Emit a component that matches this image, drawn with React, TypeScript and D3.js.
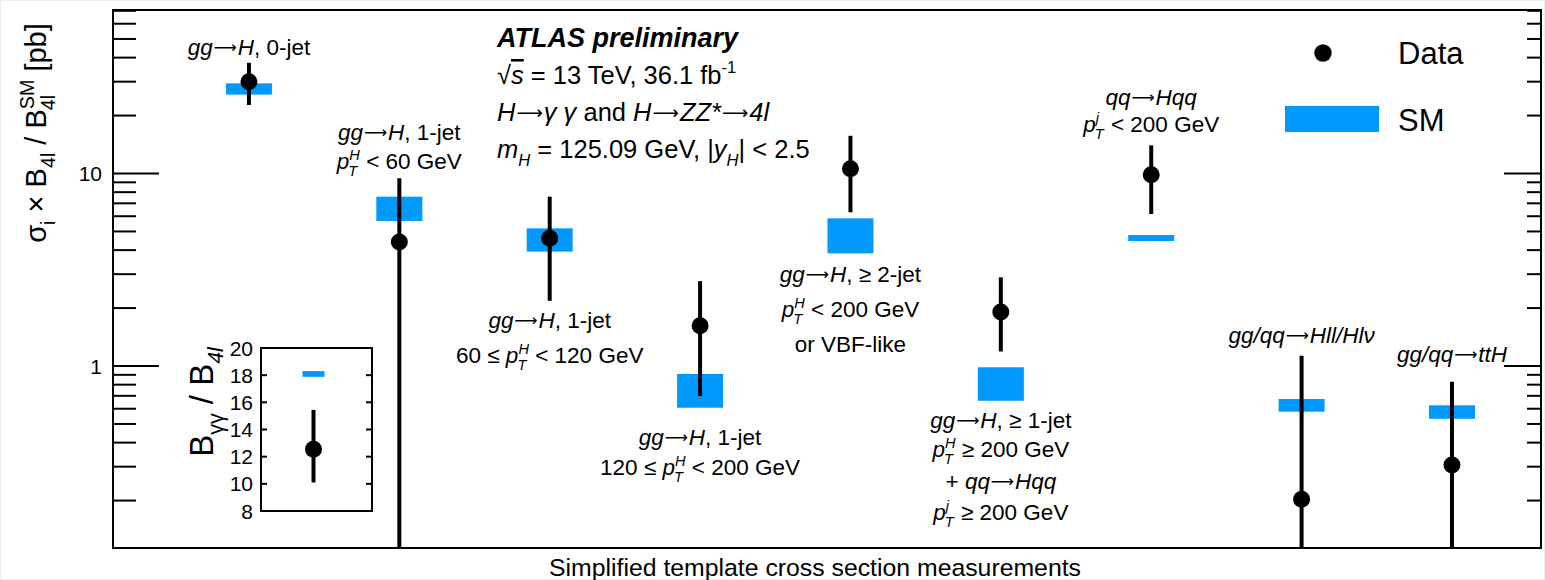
import React from "react";
import * as d3 from "d3";

// ---------------- DATA ----------------
const categories: string[][] = [
  ["*gg→H*, 0-jet"],
  ["*gg→H*, 1-jet", "*p^{H}_{T}* < 60 GeV"],
  ["*gg→H*, 1-jet", "60 ≤ *p^{H}_{T}* < 120 GeV"],
  ["*gg→H*, 1-jet", "120 ≤ *p^{H}_{T}* < 200 GeV"],
  ["*gg→H*, ≥ 2-jet", "*p^{H}_{T}* < 200 GeV", "or VBF-like"],
  ["*gg→H*, ≥ 1-jet", "*p^{H}_{T}* ≥ 200 GeV", "+ *qq→Hqq*", "*p^{j}_{T}* ≥ 200 GeV"],
  ["*qq→Hqq*", "*p^{j}_{T}* < 200 GeV"],
  ["*gg/qq→Hll/Hlν*"],
  ["*gg/qq→ttH*"],
];
const dataValue = [30.0, 4.41, 4.61, 1.62, 10.6, 1.91, 9.85, 0.203, 0.306];
const dataHigh = [37.6, 9.44, 7.58, 2.76, 15.7, 2.89, 14.0, 1.13, 0.829];
const dataLow = [22.7, 0, 2.18, 0.698, 6.29, 1.19, 6.16, 0, 0];
const smLow = [25.7, 5.67, 3.93, 0.607, 3.85, 0.66, 4.46, 0.579, 0.532];
const smHigh = [29.4, 7.58, 5.19, 0.909, 5.85, 0.985, 4.79, 0.674, 0.625];

const yMajorTicks = [1, 10];
const insetTicks = [8, 10, 12, 14, 16, 18, 20];
const insetData = { value: 12.54, low: 10.1, high: 15.44 };
const insetSM = { low: 17.88, high: 18.3 };

// "§" stands for a literal asterisk, "~" marks an overlined letter
const atlasTitle = "ATLAS preliminary";
const atlasLines = [
  "√*~s* = 13 TeV, 36.1 fb^{-1}",
  "*H→γ γ* and *H→ZZ§→4l*",
  "*m_{H}* = 125.09 GeV, |*y_{H}*| < 2.5",
];
const yTitle = "σ_{i} × B_{4l} / B^{SM}_{4l} [pb]";
const xTitle = "Simplified template cross section measurements";
const insetTitle = "B_{γγ} / B_{*4l*}";

// ---------------- LAYOUT ----------------
const W = 1545;
const H = 580;
const FONT = "'Liberation Sans', Arimo, Helvetica, Arial, sans-serif";
const ARROW_FONT = "'DejaVu Sans', sans-serif";
const SM_COLOR = "#0099ff";
const plot = { left: 113, right: 1541, top: 10, bottom: 548 };
const labelBaselines = [[55], [140, 169], [328, 363], [445, 475], [282, 317, 352], [428, 457, 489, 520], [105, 132], [343], [362]];
const labelFont = 22.5;

// --------------- rich text ---------------
type Seg =
  | { kind: "n"; text: string; italic: boolean; over?: boolean }
  | { kind: "arrow"; italic: boolean }
  | { kind: "sup" | "sub"; text: string; italic: boolean }
  | { kind: "stack"; sup: string; sub: string; italic: boolean };

function parseRich(s: string): Seg[] {
  const segs: Seg[] = [];
  let i = 0;
  let italic = false;
  let buf = "";
  const flush = () => {
    if (buf) {
      const parts = buf.split("→");
      parts.forEach((p, k) => {
        if (k > 0) segs.push({ kind: "arrow", italic });
        if (p) {
          if (p[0] === "~") segs.push({ kind: "n", text: p.slice(1), italic, over: true });
          else segs.push({ kind: "n", text: p.replace(/§/g, "*"), italic });
        }
      });
    }
    buf = "";
  };
  const readGroup = () => {
    let g: string;
    if (s[i] === "{") {
      const j = s.indexOf("}", i);
      g = s.slice(i + 1, j);
      i = j + 1;
    } else {
      g = s[i];
      i++;
    }
    let it = italic;
    if (g.length > 2 && g[0] === "*" && g[g.length - 1] === "*") {
      g = g.slice(1, -1);
      it = true;
    }
    return { g, it };
  };
  while (i < s.length) {
    const c = s[i];
    if (c === "*") {
      flush();
      italic = !italic;
      i++;
    } else if (c === "^" || c === "_") {
      flush();
      i++;
      const g1 = readGroup();
      const other = c === "^" ? "_" : "^";
      if (s[i] === other) {
        i++;
        const g2 = readGroup();
        segs.push({ kind: "stack", sup: c === "^" ? g1.g : g2.g, sub: c === "^" ? g2.g : g1.g, italic: g1.it });
      } else {
        segs.push({ kind: c === "^" ? "sup" : "sub", text: g1.g, italic: g1.it });
      }
    } else {
      buf += c;
      i++;
    }
  }
  flush();
  return segs;
}

let _ctx: CanvasRenderingContext2D | null = null;
function measure(text: string, size: number, italic: boolean, bold: boolean) {
  if (!_ctx) _ctx = document.createElement("canvas").getContext("2d");
  if (!_ctx) return text.length * size * 0.55;
  _ctx.font = `${italic ? "italic " : ""}${bold ? "bold " : ""}${size}px ${FONT}`;
  return _ctx.measureText(text).width;
}

function Rich(props: {
  x: number;
  y: number;
  text: string;
  size: number;
  anchor?: string;
  bold?: boolean;
  rotate?: number;
  supScale?: number;
}) {
  const { x, y, text, size, anchor = "start", bold = false, rotate = 0, supScale = 0.65 } = props;
  const segs = parseRich(text);
  const ss = size * supScale;
  const supOff = -0.42 * size;
  const subOff = 0.3 * size;
  let cur = 0;
  let pending = 0;
  const out: any[] = [];
  segs.forEach((sg, k) => {
    const fs = sg.italic ? "italic" : "normal";
    if (sg.kind === "n") {
      out.push(
        <tspan
          key={k}
          dy={0 - cur}
          dx={pending}
          fontStyle={fs}
          fontSize={size}
          style={sg.over ? { textDecoration: "overline" } : undefined}
        >
          {sg.text}
        </tspan>
      );
      cur = 0;
      pending = 0;
    } else if (sg.kind === "arrow") {
      const off = -0.07 * size;
      out.push(
        <tspan key={k} dy={off - cur} dx={pending + 0.04 * size} fontSize={size * 0.72} fontFamily={ARROW_FONT} fontStyle="normal">
          ⟶
        </tspan>
      );
      cur = off;
      pending = 0.04 * size;
    } else if (sg.kind === "sup" || sg.kind === "sub") {
      const off = sg.kind === "sup" ? supOff : subOff;
      out.push(
        <tspan key={k} dy={off - cur} dx={pending} fontStyle={fs} fontSize={ss}>
          {sg.text}
        </tspan>
      );
      cur = off;
      pending = 0;
    } else {
      const wSup = measure(sg.sup, ss, sg.italic, bold);
      const wSub = measure(sg.sub, ss, sg.italic, bold);
      out.push(
        <tspan key={k + "a"} dy={supOff - cur} dx={pending} fontStyle={fs} fontSize={ss}>
          {sg.sup}
        </tspan>
      );
      out.push(
        <tspan key={k + "b"} dy={subOff - supOff} dx={-wSup - 1} fontStyle={fs} fontSize={ss}>
          {sg.sub}
        </tspan>
      );
      cur = subOff;
      pending = Math.max(0, wSup - wSub) + 1;
    }
  });
  return (
    <text
      x={rotate ? 0 : x}
      y={rotate ? 0 : y}
      transform={rotate ? `translate(${x},${y}) rotate(${rotate})` : undefined}
      fontSize={size}
      fontFamily={FONT}
      fontWeight={bold ? "bold" : "normal"}
      textAnchor={anchor}
      fill="#000"
    >
      {out}
    </text>
  );
}

export default function App() {
  const x = d3.scaleLinear().domain([-0.904, 8.592]).range([plot.left, plot.right]);
  const y = d3.scaleLog().domain([0.1134, 70.7]).range([plot.bottom, plot.top]);
  const yv = (v: number) => (v <= y.domain()[0] ? plot.bottom : y(v));
  const allTicks = y.ticks().filter((t) => t > y.domain()[0] && t < y.domain()[1]);
  const isMajor = (t: number) => yMajorTicks.some((m) => Math.abs(m - t) < 1e-9);
  const fmt = d3.format("d");

  const boxW = 46;

  // inset
  const inset = { left: 261, right: 372, top: 348, bottom: 511 };
  const iy = d3.scaleLinear().domain([8, 20]).range([inset.bottom, inset.top]);
  const ix = (inset.left + inset.right) / 2 - 3;

  return (
    <div style={{ position: "fixed", left: 0, top: 0, width: W, height: H, background: "#fff" }}>
      <svg width={W} height={H} style={{ display: "block" }}>
        <rect x={0.5} y={0.5} width={W - 1} height={H - 1} fill="#fff" stroke="#eeeeee" />
        {/* SM boxes */}
        {smLow.map((lo, i) => (
          <rect
            key={"sm" + i}
            x={x(i) - boxW / 2}
            y={y(smHigh[i])}
            width={boxW}
            height={y(lo) - y(smHigh[i])}
            fill={SM_COLOR}
          />
        ))}
        {/* error bars */}
        {dataValue.map((v, i) => (
          <line
            key={"eb" + i}
            x1={x(i)}
            x2={x(i)}
            y1={yv(dataLow[i])}
            y2={yv(dataHigh[i])}
            stroke="#000"
            strokeWidth={4}
          />
        ))}
        {dataValue.map((v, i) => (
          <circle key={"pt" + i} cx={x(i)} cy={y(v)} r={8.5} fill="#000" />
        ))}

        {/* frame */}
        <rect
          x={plot.left}
          y={plot.top}
          width={plot.right - plot.left}
          height={plot.bottom - plot.top}
          fill="none"
          stroke="#000"
          strokeWidth={2}
        />
        {/* ticks */}
        {allTicks.map((t, i) => {
          const major = isMajor(t);
          const yy = y(t);
          return (
            <g key={"tk" + i}>
              <line x1={plot.left} x2={plot.left + (major ? 46 : 23)} y1={yy} y2={yy} stroke="#000" strokeWidth={2} />
              <line x1={plot.right} x2={plot.right - (major ? 37 : 14)} y1={yy} y2={yy} stroke="#000" strokeWidth={2} />
            </g>
          );
        })}
        {yMajorTicks.map((t) => (
          <text
            key={"tl" + t}
            x={plot.left - 11}
            y={y(t)}
            dy="0.36em"
            textAnchor="end"
            fontSize={21}
            fontFamily={FONT}
          >
            {fmt(t)}
          </text>
        ))}

        {/* axis titles */}
        <Rich x={46} y={133} rotate={-90} anchor="middle" size={29} supScale={0.68} text={yTitle} />
        <text x={815} y={576} textAnchor="middle" fontSize={24.8} fontFamily={FONT}>
          {xTitle}
        </text>

        {/* category labels */}
        {categories.map((lines, i) =>
          lines.map((ln, j) => (
            <Rich key={"lb" + i + "_" + j} x={x(i)} y={labelBaselines[i][j]} anchor="middle" size={labelFont} text={ln} />
          ))
        )}

        {/* ATLAS block */}
        <text x={497} y={47} fontSize={27} fontFamily={FONT} fontWeight="bold" fontStyle="italic">
          {atlasTitle}
        </text>
        {atlasLines.map((ln, i) => (
          <Rich key={"al" + i} x={497} y={84 + i * 37} size={25.5} text={ln} />
        ))}

        {/* legend */}
        <circle cx={1323} cy={53} r={8.7} fill="#000" />
        <text x={1398} y={64} fontSize={31} fontFamily={FONT}>
          Data
        </text>
        <rect x={1285} y={106} width={94} height={26} fill={SM_COLOR} />
        <text x={1398} y={131} fontSize={31} fontFamily={FONT}>
          SM
        </text>

        {/* inset */}
        <rect x={ix - 11} y={iy(insetSM.high)} width={22} height={iy(insetSM.low) - iy(insetSM.high)} fill={SM_COLOR} />
        <line x1={ix} x2={ix} y1={iy(insetData.low)} y2={iy(insetData.high)} stroke="#000" strokeWidth={4} />
        <circle cx={ix} cy={iy(insetData.value)} r={8.5} fill="#000" />
        <rect
          x={inset.left}
          y={inset.top}
          width={inset.right - inset.left}
          height={inset.bottom - inset.top}
          fill="none"
          stroke="#000"
          strokeWidth={2}
        />
        {insetTicks.map((t) => (
          <g key={"it" + t}>
            <line x1={inset.left} x2={inset.left + 6} y1={iy(t)} y2={iy(t)} stroke="#000" strokeWidth={2} />
            <line x1={inset.right} x2={inset.right - 6} y1={iy(t)} y2={iy(t)} stroke="#000" strokeWidth={2} />
            <text x={inset.left - 8} y={iy(t)} dy="0.36em" textAnchor="end" fontSize={21} fontFamily={FONT}>
              {t}
            </text>
          </g>
        ))}
        <Rich x={213} y={402} rotate={-90} anchor="middle" size={33} text={insetTitle} />
      </svg>
    </div>
  );
}
